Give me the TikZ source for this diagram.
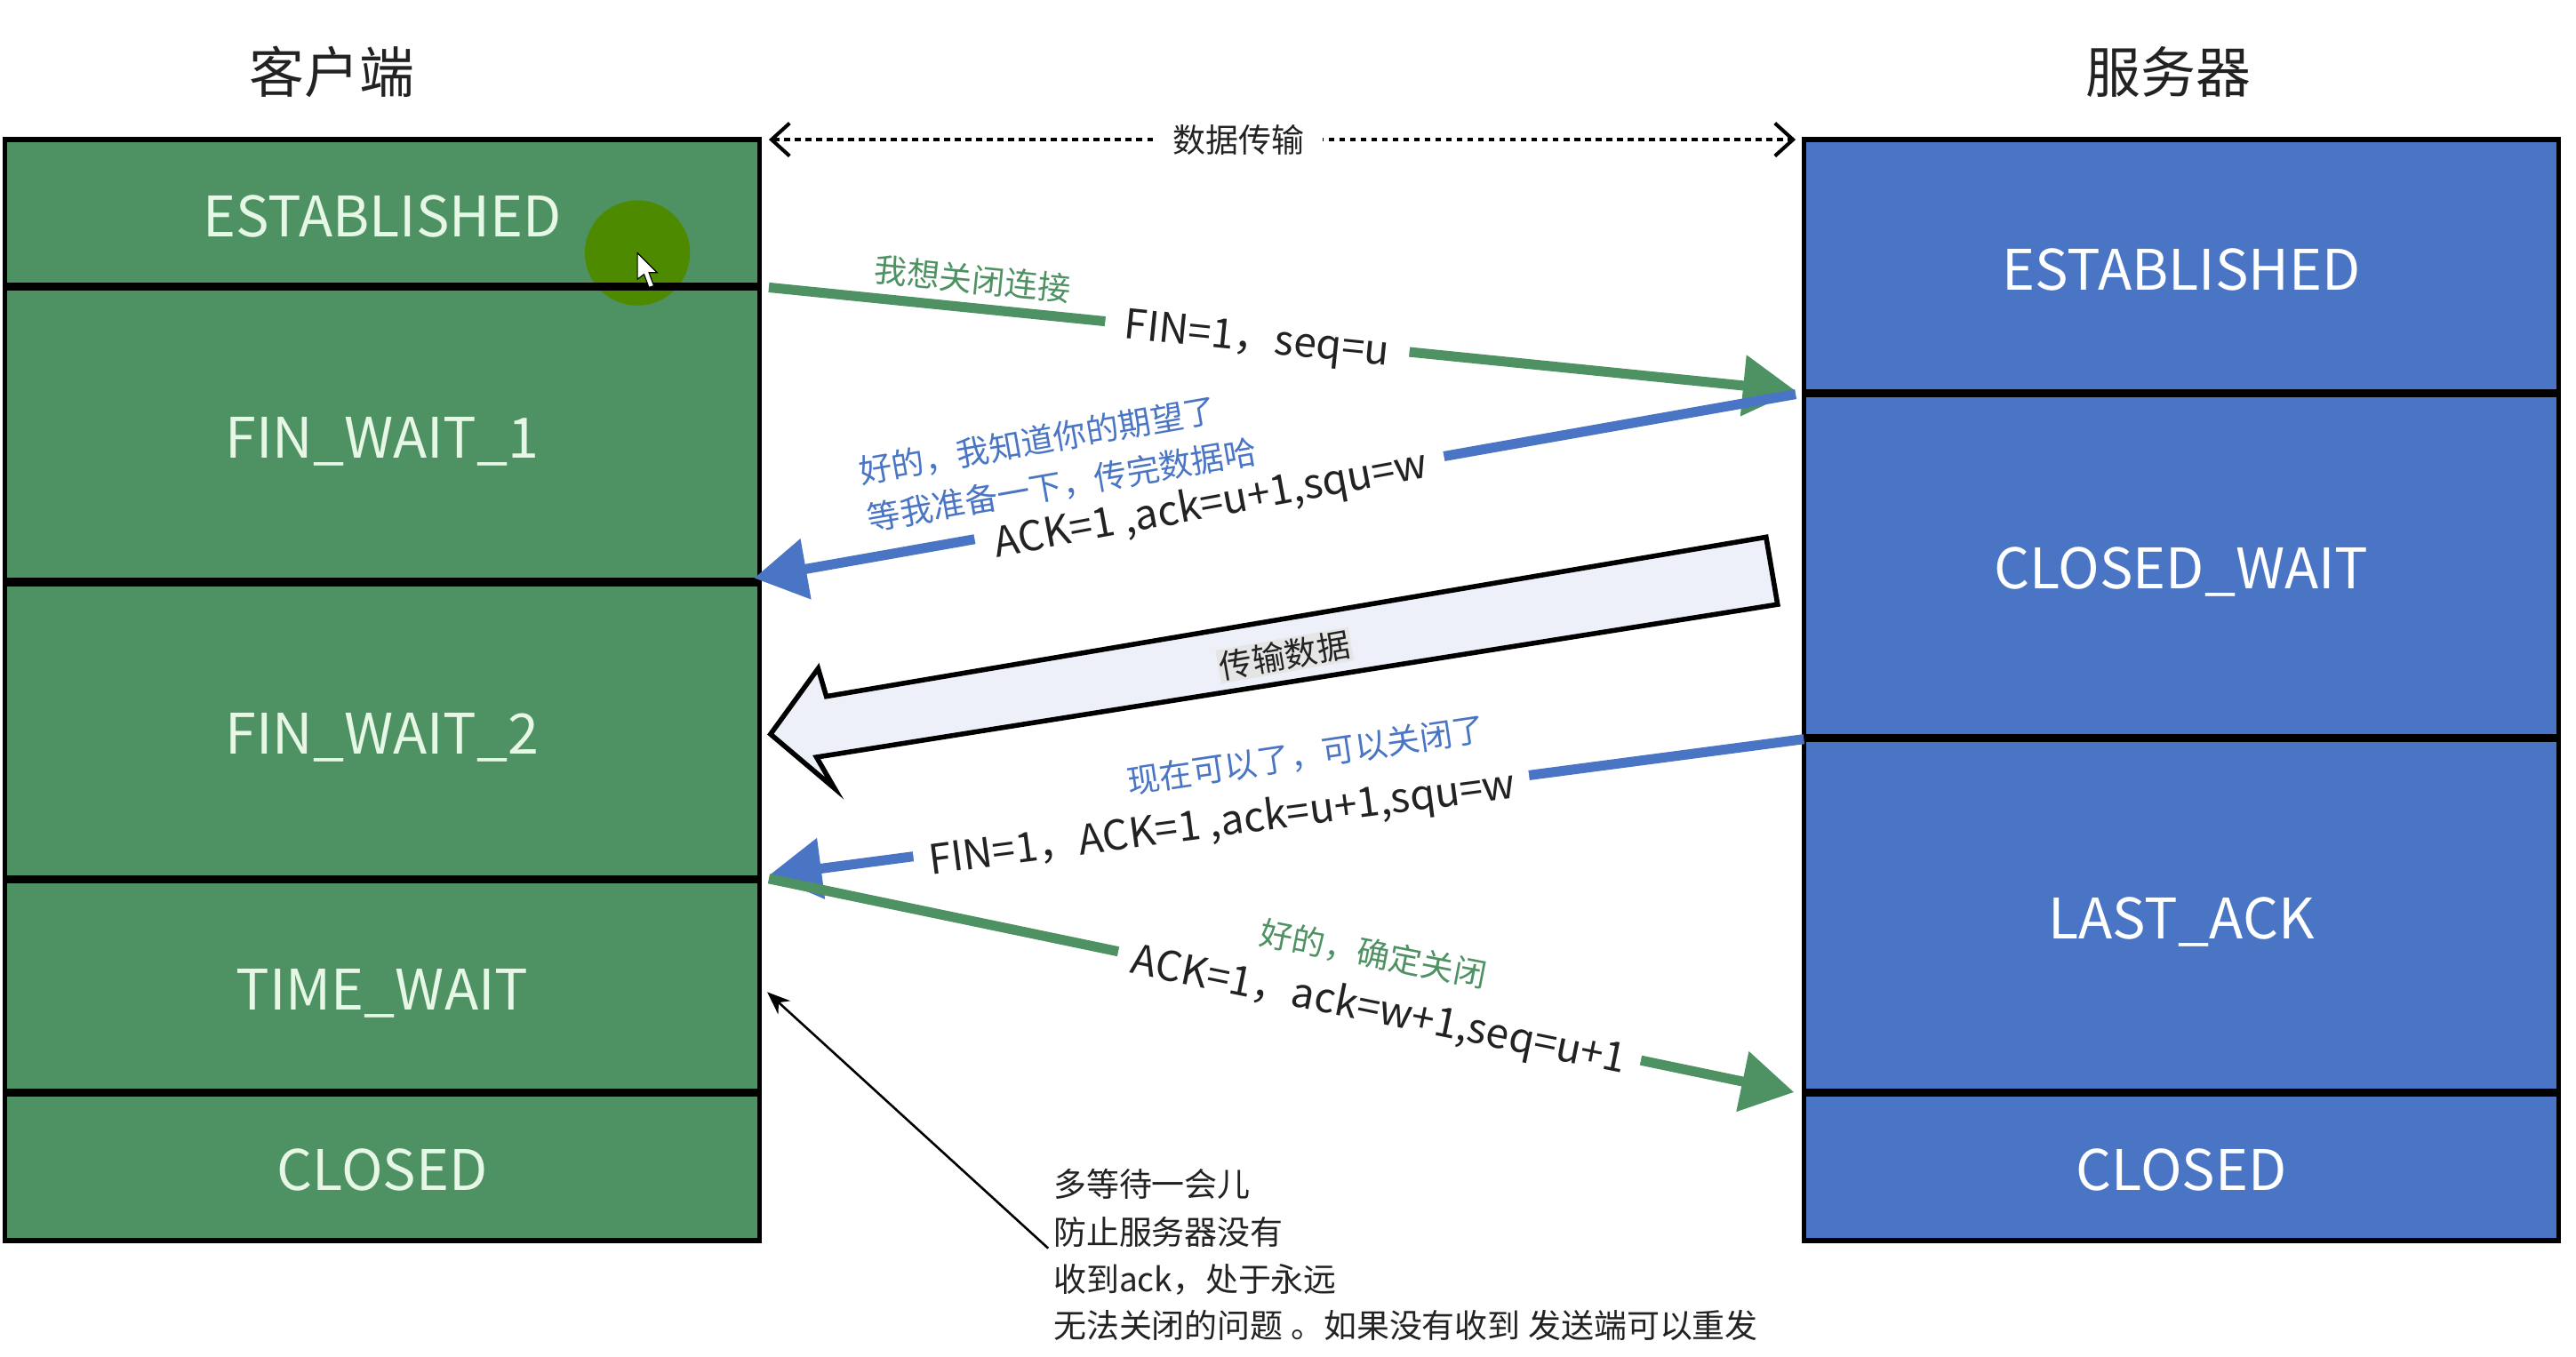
\documentclass[tikz,border=0pt]{standalone}
\usepackage{fontspec}
\setmainfont{Noto Sans CJK SC}
\usetikzlibrary{arrows.meta,shapes.geometric}
\definecolor{cgreen}{HTML}{4E9162}
\definecolor{cblue}{HTML}{4A75C5}
\definecolor{lgreen}{HTML}{E6F7E6}
\definecolor{lblue}{HTML}{EEF0F9}
\definecolor{dot}{HTML}{4E8A00}
\definecolor{ink}{HTML}{222222}
\tikzset{
  cell/.style={anchor=north west,inner sep=0pt,minimum width=459pt,font=\fontsize{34}{34}\selectfont,text height=30pt,text depth=1pt},
  gcell/.style={cell,fill=cgreen,text=lgreen},
  bcell/.style={cell,fill=cblue,text=white},
  frame/.style={draw=black,line width=3pt},
  divider/.style={draw=black,line width=5pt},
  title/.style={font=\fontsize{33.5}{34}\selectfont,text=ink,inner sep=0pt},
  msg/.style={font=\fontsize{25}{25}\selectfont,text=ink,fill=white,inner sep=3pt},
  note/.style={font=\fontsize{20}{20}\selectfont,inner sep=0pt},
  garrow/.style={draw=cgreen,line width=6pt,-{Triangle[length=32pt,width=36pt]}},
  barrow/.style={draw=cblue,line width=6pt,-{Triangle[length=32pt,width=36pt]}},
}
\begin{document}
\begin{tikzpicture}[x=1pt,y=-1pt]
\useasboundingbox (0,0) rectangle (1568,826);
% client cells
\node[gcell,minimum height=89pt] (c1) at (3,85) {ESTABLISHED};
\node[gcell,minimum height=180pt] (c2) at (3,174) {FIN\_WAIT\_1};
\node[gcell,minimum height=181pt] (c3) at (3,354) {FIN\_WAIT\_2};
\node[gcell,minimum height=130pt] (c4) at (3,535) {TIME\_WAIT};
\node[gcell,minimum height=90pt] (c5) at (3,665) {CLOSED};
% server cells
\node[bcell,minimum height=154pt] (s1) at (1098,85) {ESTABLISHED};
\node[bcell,minimum height=210pt] (s2) at (1098,239) {CLOSED\_WAIT};
\node[bcell,minimum height=216pt] (s3) at (1098,449) {LAST\_ACK};
\node[bcell,minimum height=90pt] (s4) at (1098,665) {CLOSED};
% pointer highlight
\node[ellipse,fill=dot,inner sep=0pt,minimum width=64pt,minimum height=64pt] (hl) at (388,154) {};
% frames and dividers
\draw[frame] (c1.north west) rectangle (c5.south east);
\draw[frame] (s1.north west) rectangle (s4.south east);
\draw[divider] (c1.south west) -- (c1.south east);
\draw[divider] (c2.south west) -- (c2.south east);
\draw[divider] (c3.south west) -- (c3.south east);
\draw[divider] (c4.south west) -- (c4.south east);
\draw[divider] (s1.south west) -- (s1.south east);
\draw[divider] (s2.south west) -- (s2.south east);
\draw[divider] (s3.south west) -- (s3.south east);
% cursor
\draw[fill=white,draw=black,line width=.6pt] (388,154) -- (388,170) -- (392,167) -- (395,175) -- (398,174) -- (395,166) -- (400,166) -- cycle;
% titles
\node[title] (tc) at (202,44) {客户端};
\node[title] (ts) at (1320,44) {服务器};
% data transfer
\coordinate (dl) at (468,85);
\coordinate (dr) at (1093,85);
\draw[draw=black,line width=2.6pt,dash pattern=on 3.5pt off 3pt,{Straight Barb[length=11pt,width=20pt,line width=2.2pt]}-{Straight Barb[length=11pt,width=20pt,line width=2.2pt]}] (dl) -- (dr);
\node[font=\fontsize{20}{20}\selectfont,text=ink,fill=white,minimum width=102pt,inner sep=2pt] (dt) at (754,85) {数据传输};
% FIN
\coordinate (a1s) at (468,175);
\coordinate (a1e) at (1093,238);
\draw[garrow] (a1s) -- (a1e);
\node[msg,rotate=-5.8,inner sep=12pt] (a1t) at (765,208) {FIN=1，seq=u};
\node[note,rotate=-5.8,text=cgreen] (a1n) at (592,170) {我想关闭连接};
% ACK
\coordinate (a2s) at (1093,240);
\coordinate (a2e) at (459,352);
\draw[barrow] (a2s) -- (a2e);
\node[msg,rotate=10.5,inner sep=11pt] (a2t) at (737,308) {ACK=1 ,ack=u+1,squ=w};
\node[note,rotate=10,text=cblue,align=left] (a2n) at (644,281) {好的，我知道你的期望了\\[9pt]等我准备一下，传完数据哈};
% block arrow
\coordinate (btr) at (1075,327);
\coordinate (bbr) at (1082,368);
\coordinate (bbl) at (497,461);
\coordinate (bhb) at (508,480);
\coordinate (btip) at (469,447);
\coordinate (bht) at (498,407);
\coordinate (btl) at (503,424);
\draw[draw=black,line width=3pt,fill=lblue,line join=miter] (btr) -- (bbr) -- (bbl) -- (bhb) -- (btip) -- (bht) -- (btl) -- cycle;
\node[font=\fontsize{20}{20}\selectfont,text=ink,fill=black!10,inner sep=1pt,rotate=10] (bt) at (782,399) {传输数据};
% FIN ACK
\coordinate (a3s) at (1098,450);
\coordinate (a3e) at (468,533);
\draw[barrow] (a3s) -- (a3e);
\node[msg,rotate=7.5,inner sep=9pt] (a3t) at (744,502) {FIN=1，ACK=1 ,ack=u+1,squ=w};
\node[note,rotate=8.5,text=cblue] (a3n) at (795,460) {现在可以了，可以关闭了};
% last ACK
\coordinate (a4s) at (468,535);
\coordinate (a4e) at (1092,665);
\draw[garrow] (a4s) -- (a4e);
\node[msg,rotate=-11.5,inner sep=9pt] (a4t) at (839,616) {ACK=1，ack=w+1,seq=u+1};
\node[note,rotate=-11,text=cgreen] (a4n) at (836,581) {好的，确定关闭};
% note
\coordinate (ns) at (638,760);
\coordinate (ne) at (467,604);
\draw[draw=black,line width=1.4pt,-{Stealth[length=14pt,width=11pt]}] (ns) -- (ne);
\node[note,anchor=west,text=ink] (n1) at (641,721) {多等待一会儿};
\node[note,anchor=west,text=ink] (n2) at (641,750) {防止服务器没有};
\node[note,anchor=west,text=ink] (n3) at (641,779) {收到ack，处于永远};
\node[note,anchor=west,text=ink] (n4) at (641,807) {无法关闭的问题 。如果没有收到 发送端可以重发};
\end{tikzpicture}
\end{document}
